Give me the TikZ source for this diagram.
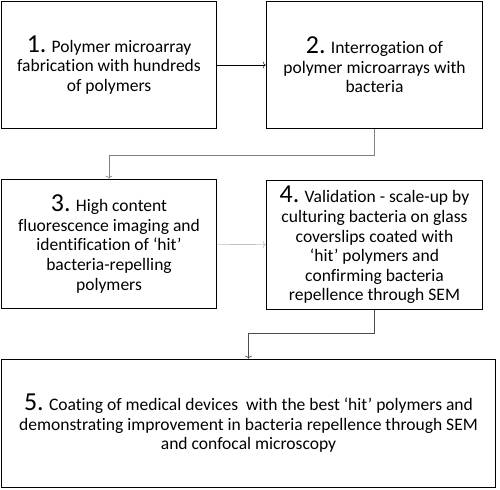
\documentclass[tikz,border=0pt]{standalone}
\usepackage{fontspec}
\setmainfont{Carlito}[Ligatures=CommonOff]
\usetikzlibrary{arrows.meta}
\tikzset{
    stage/.style={draw=black,line width=1.6pt,align=center,inner sep=0pt,
        font=\fontsize{17.6}{19.6}\selectfont},
    flow/.style={line width=0.6pt,-{To[length=3pt,width=7pt]}}
}
\newcommand{\stepno}[1]{{\fontsize{26}{19.6}\selectfont #1.}}
\begin{document}
\begin{tikzpicture}[x=1bp,y=1bp]
        \useasboundingbox (0,0) rectangle (500,490);
        \node[stage,minimum width=215bp,minimum height=127bp] (s1) at (109,425)
            {\stepno{1} Polymer microarray\\fabrication with hundreds\\of polymers};
        \node[stage,minimum width=216bp,minimum height=127bp] (s2) at (374.5,425)
            {\stepno{2} Interrogation of\\polymer microarrays with\\bacteria};
        \node[stage,minimum width=215bp,minimum height=129bp] (s3) at (109,246)
            {\stepno{3} High content\\fluorescence imaging and\\identification of ‘hit’\\bacteria-repelling\\polymers};
        \node[stage,minimum width=216bp,minimum height=129bp] (s4) at (374.5,245)
            {\stepno{4} Validation - scale-up by\\culturing bacteria on glass\\coverslips coated with\\‘hit’ polymers and\\confirming bacteria\\repellence through SEM};
        \node[stage,minimum width=494bp,minimum height=128bp] (s5) at (248.5,66.5)
            {\stepno{5} Coating of medical devices\ \ with the best ‘hit’ polymers and\\demonstrating improvement in bacteria repellence through SEM\\and confocal microscopy};
        \draw[flow,black,line width=0.5pt] (s1) -- (s2);
        \draw[flow,gray] (s2.south) -- ++(0,-26) -| (s3.north);
        \draw[flow,black!25] (s3) -- (s4);
        \draw[flow,black!70] (s4.south) -- ++(0,-23) -| (s5.north);
    \end{tikzpicture}
\end{document}
